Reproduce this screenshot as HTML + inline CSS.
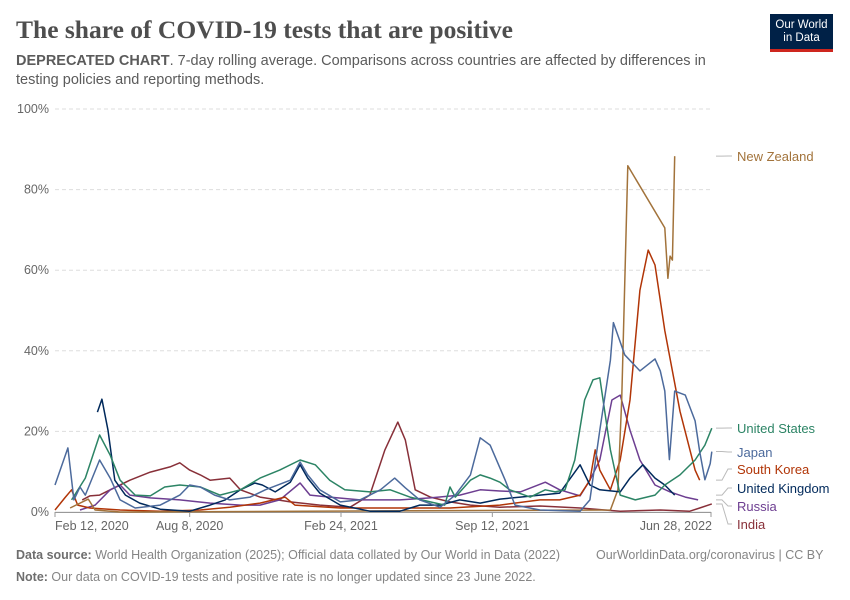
<!DOCTYPE html>
<html><head><meta charset="utf-8">
<style>
body{margin:0;background:#fff;font-family:"Liberation Sans",sans-serif;}
#wrap{position:relative;width:850px;height:600px;overflow:hidden;}
.title{position:absolute;left:16px;top:15px;font-family:"Liberation Serif",serif;font-size:25.5px;color:#4e4e4e;font-weight:bold;margin:0;}
.sub{position:absolute;left:16px;top:52px;width:720px;font-size:14.5px;line-height:19px;color:#5b5b5b;}
.logo{position:absolute;left:770px;top:14px;width:63px;height:38px;background:#002147;color:#fff;font-size:11.5px;line-height:13px;text-align:center;border-bottom:3px solid #ce261e;box-sizing:border-box;padding-top:5px;}
.foot{position:absolute;left:16px;font-size:12.5px;color:#858585;}
.foot b{color:#6e6e6e;}
</style></head><body>
<div id="wrap">
<h1 class="title">The share of COVID-19 tests that are positive</h1>
<div class="sub"><b>DEPRECATED CHART</b>. 7-day rolling average. Comparisons across countries are affected by differences in testing policies and reporting methods.</div>
<div class="logo">Our World<br>in Data</div>
<svg id="chart" width="850" height="600" style="position:absolute;left:0;top:0"></svg>
<div class="foot" style="top:548px"><b>Data source:</b> World Health Organization (2025); Official data collated by Our World in Data (2022)</div>
<div class="foot" style="top:548px;left:596px">OurWorldinData.org/coronavirus | CC BY</div>
<div class="foot" style="top:570px"><b>Note:</b> Our data on COVID-19 tests and positive rate is no longer updated since 23 June 2022.</div>
</div>
<script>
// days since Feb 12 2020
const yTicks=[0,20,40,60,80,100];
const xTickDays=[0,178,378,578,867];
const xTickLabels=["Feb 12, 2020","Aug 8, 2020","Feb 24, 2021","Sep 12, 2021","Jun 28, 2022"];
const seriesNames=["India","Russia","South Korea","New Zealand","United Kingdom","United States","Japan"];
const seriesColors=["#883039","#6d3e91","#b13507","#a2733b","#00295b","#2c8465","#4c6a9c"];
const indiaDays=[36,46,59,73,99,126,152,165,178,192,205,231,245,271,311,350,390,416,436,453,463,476,496,522,549,588,641,694,747,800,839,852,868];
const indiaVals=[3,4,4.2,5.5,7.9,9.9,11.2,12.2,10.4,9.2,7.9,8.4,5.5,3.7,2.5,1.7,1.2,4.2,15.4,22.3,17.9,5.5,3.7,2.5,1.7,1.2,1.5,1,0.2,0.5,0.2,1,2];
const russiaDays=[33,53,73,86,99,126,165,205,245,271,297,324,337,363,403,456,496,535,562,588,615,648,667,694,707,720,736,747,760,773,793,813,833,850];
const russiaVals=[0.5,1.7,5.5,6.7,4.2,3.5,3,2.2,1.7,1.7,3,7.2,4.2,3.7,3,3,3.5,4.2,5.5,5.2,5,7.4,5.5,4,7.9,12.9,27.8,29,20.3,12.9,6.7,5,3.7,3];
const koreaDays=[0,13,22,30,46,86,139,192,231,271,304,317,377,522,588,641,667,694,707,714,720,734,747,760,773,784,793,806,826,846,852];
const koreaVals=[0.5,3.5,5.5,1.7,1,0.5,0.2,0.5,1.2,2.2,3.7,1.7,1,1,1.7,3,3,4.2,7.9,15.4,10.4,5.5,12.9,27.8,55,65,61.3,45,25,10.4,7.9];
const nzDays=[20,44,53,86,734,744,749,757,806,810,813,816,819];
const nzVals=[1,3.2,0.5,0,0.5,5.5,27.8,85.9,70.5,58,63.5,62.5,88.3];
const ukDays=[56,62,70,79,93,112,139,178,205,225,245,264,274,291,311,324,334,350,377,416,456,482,509,535,562,588,615,641,667,694,707,720,747,760,777,793,806,819];
const ukVals=[24.8,28,20.3,7.9,4.2,2.2,0.7,0.2,1.7,3,5.5,7.2,6.7,5,7.4,11.7,8.4,4.7,1.7,0.2,0.2,1.7,1.7,3,2.2,3.2,3.7,4.2,4.7,11.7,6.7,5.5,5,8.4,11.7,8.4,6.7,4.2];
const usDays=[22,40,59,73,86,106,126,145,165,192,218,245,271,297,324,344,363,383,416,443,469,496,515,522,529,549,562,575,588,601,628,648,661,674,687,700,711,720,734,747,767,793,806,826,846,859,868];
const usVals=[3,8.4,19.1,14.1,7.9,4.2,4,6.2,6.7,6.2,4.2,5.5,8.4,10.4,12.9,11.7,7.9,5.5,5,5.5,3.7,2.5,1.7,6.2,3.7,7.9,9.2,8.4,7.4,5.5,3.7,5.5,5,5.5,12.9,27.8,32.8,33.3,15.4,4.2,3,4.2,6.7,9.2,12.9,16.6,20.8];
const japanDays=[0,17,25,33,40,59,73,86,106,139,165,178,192,211,231,258,278,311,324,334,350,377,403,430,449,463,482,509,529,549,562,575,595,608,641,694,707,720,734,738,753,773,793,800,806,812,819,833,846,852,859,866,868];
const japanVals=[6.7,15.9,3,6.2,4.2,12.9,8.4,3,1,1.7,4.2,6.7,6.2,4.2,3,3.7,5.5,7.9,12.4,9.2,5.5,2.5,3,5.5,8.4,6,3,1.2,4.2,9.2,18.4,16.6,7.9,1.7,0.5,0.2,3,20.3,37.7,47,39,35,38,35,30,13,30,29,22.6,15,8,12,15];
const seriesDays=[indiaDays,russiaDays,koreaDays,nzDays,ukDays,usDays,japanDays];
const seriesVals=[indiaVals,russiaVals,koreaVals,nzVals,ukVals,usVals,japanVals];
const labelY=[529,511,474,161,493,433,457];

const NS="http://www.w3.org/2000/svg";
const svg=document.getElementById("chart");
const X0=55,X1=711,Y0=512,Y1=109,DMAX=867;
const xs=d=>X0+(X1-X0)*d/DMAX;
const ys=v=>Y0-(Y0-Y1)*v/100;
function mk(tag,attrs){const e=document.createElementNS(NS,tag);for(const k in attrs)e.setAttribute(k,attrs[k]);svg.appendChild(e);return e;}
yTicks.forEach(t=>{
  const g=mk("line",{x1:X0,x2:X1,y1:ys(t),y2:ys(t),stroke:"#dddddd","stroke-dasharray":t===0?"":"4,3"});
  
  
  const l=mk("text",{x:49,y:ys(t)+4,"text-anchor":"end","font-size":"12.5",fill:"#666"});
  l.textContent=t+"%";
  
  
});
const ax=mk("line",{x1:X0,x2:X1,y1:Y0+0.5,y2:Y0+0.5,stroke:"#999"});


xTickDays.forEach((d,i)=>{
  const tk=mk("line",{x1:xs(d),x2:xs(d),y1:Y0,y2:Y0+5,stroke:"#999"});
  
  
  const t=mk("text",{x:xs(d),y:530,"text-anchor":i===xTickDays.length-1?"end":"middle","font-size":"12.5",fill:"#666"});
  if(i===0){t.setAttribute("text-anchor","start");t.setAttribute("x",xs(d));}
  if(i===xTickDays.length-1)t.setAttribute("x",xs(d)+1);
  t.textContent=xTickLabels[i];
  
  
});
seriesNames.forEach((n,i)=>{
  const pts=seriesDays[i].map((d,j)=>xs(d).toFixed(1)+","+ys(seriesVals[i][j]).toFixed(1)).join(" ");
  const p=mk("polyline",{points:pts,fill:"none",stroke:seriesColors[i],"stroke-width":"1.5","stroke-linejoin":"round"});
  
  
  const vl=seriesVals[i];
  const ey=ys(vl[vl.length-1]);
  const c=mk("polyline",{points:`716,${ey} 722,${ey} 728,${labelY[i]-5} 732,${labelY[i]-5}`,fill:"none",stroke:"#bbb","stroke-width":"1"});
  
  
  const t=mk("text",{x:737,y:labelY[i],"font-size":"13",fill:seriesColors[i]});
  t.textContent=n;
  
  
});
</script>
</body></html>
